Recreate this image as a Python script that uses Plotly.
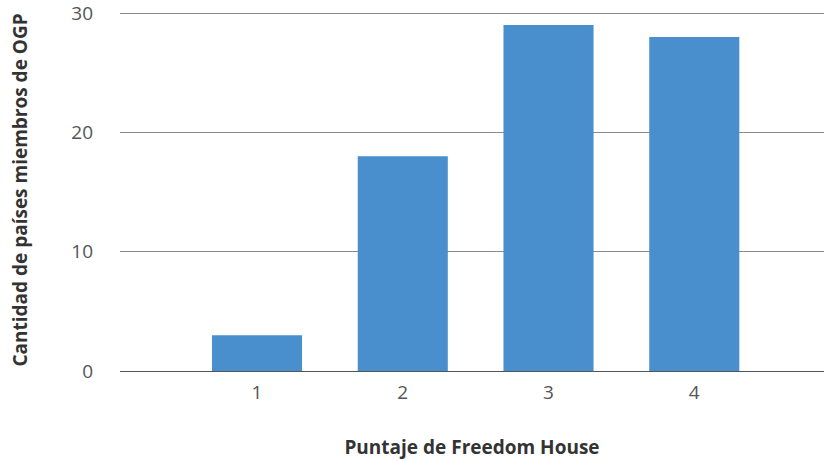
import plotly.graph_objects as go

# Freedom House score vs. number of OGP member countries
scores = [1, 2, 3, 4]
member_counts = [3, 18, 29, 28]
tick_labels = ["1", "2", "3", "4"]

bar_color = "#4a8fcd"
font_family = "'Open Sans', Lato, sans-serif"

fig = go.Figure(
    go.Bar(
        x=scores,
        y=member_counts,
        width=0.618,
        marker=dict(color=bar_color, line=dict(width=0)),
        hoverinfo="x+y",
    )
)

fig.update_layout(
    width=824,
    height=461,
    margin=dict(l=120, r=0, t=9, b=90),
    paper_bgcolor="white",
    plot_bgcolor="white",
    showlegend=False,
    font=dict(family=font_family, size=19, color="#555555"),
    xaxis=dict(
        range=[0.06, 4.89],
        tickmode="array",
        tickvals=scores,
        ticktext=tick_labels,
        showgrid=False,
        zeroline=False,
        showline=False,
        ticks="",
        ticklabelstandoff=8,
        title=dict(
            text="<b>Puntaje de Freedom House</b>",
            font=dict(family=font_family, size=19, color="#333333"),
            standoff=36,
        ),
    ),
    yaxis=dict(
        range=[0, 30.34],
        tickvals=[0, 10, 20, 30],
        showgrid=True,
        gridcolor="#8a8a8a",
        gridwidth=1,
        zeroline=True,
        zerolinecolor="#555555",
        zerolinewidth=1,
        showline=False,
        ticks="",
        ticklabelstandoff=26,
        ticklabeloverflow="allow",
        title=dict(
            text="<b>Cantidad de países miembros de OGP</b>",
            font=dict(family=font_family, size=19, color="#333333"),
            standoff=38,
        ),
    ),
)

fig.write_html("out.html")
